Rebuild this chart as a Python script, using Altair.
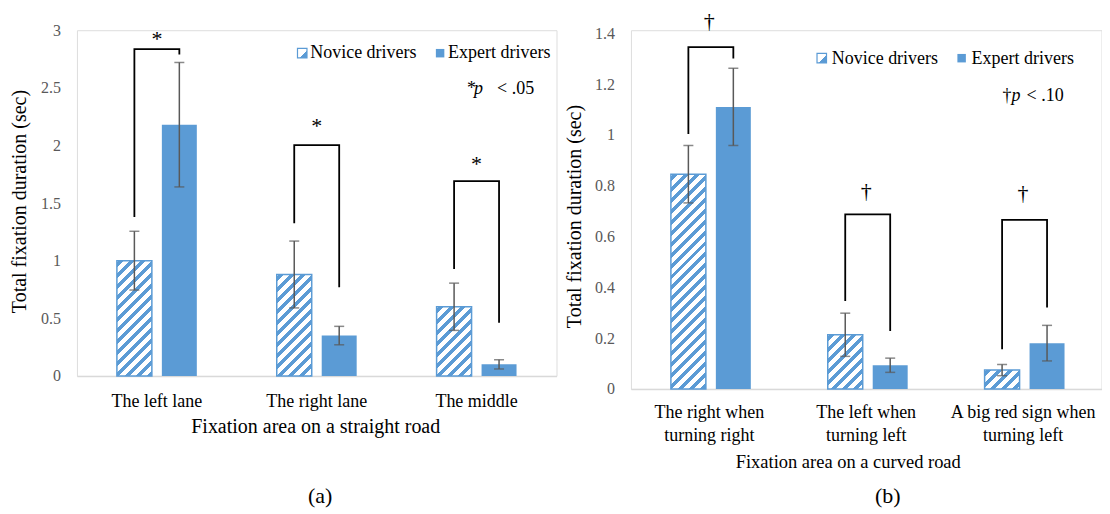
import altair as alt
import pandas as pd

BLUE = "#5B9BD5"
ERR = "#595959"
FONT = "Liberation Serif"

groups = ["Novice drivers", "Expert drivers"]

# ---------- panel (a) ----------
a_cats = ["The left lane", "The right lane", "The middle"]
a_novice = [1.00, 0.88, 0.60]
a_novice_err = [0.255, 0.29, 0.205]
a_expert = [2.18, 0.35, 0.10]
a_expert_err = [0.54, 0.08, 0.04]
a_bracket_top = [2.835, 2.003, 1.69]
a_bracket_left = [1.38, 1.325, 0.928]
a_bracket_right = [2.79, 0.77, 0.462]
a_sig_y = [2.948, 2.194, 1.864]
a_ticks = [0, 0.5, 1, 1.5, 2, 2.5, 3]

# ---------- panel (b) ----------
b_cats = ["The right when|turning right", "The left when|turning left",
          "A big red sign when|turning left"]
b_novice = [0.845, 0.213, 0.074]
b_novice_err = [0.113, 0.085, 0.022]
b_expert = [1.11, 0.093, 0.18]
b_expert_err = [0.152, 0.028, 0.07]
b_bracket_top = [1.345, 0.687, 0.665]
b_bracket_left = [1.003, 0.346, 0.156]
b_bracket_right = [1.30, 0.228, 0.32]
b_sig_y = [1.443, 0.775, 0.767]
b_ticks = [0, 0.2, 0.4, 0.6, 0.8, 1, 1.2, 1.4]


def hatch(w, h, period=11.0, blue=5.0, phase=2.0):
    L = w + h

    def col(s):
        return BLUE if ((s - phase) % period) < blue else "#FFFFFF"

    bnds = []
    k = -1
    while True:
        s0 = phase + k * period
        for b in (s0, s0 + blue):
            if 0 < b < L:
                bnds.append(b)
        if s0 > L:
            break
        k += 1
    bnds.sort()
    stops = [alt.GradientStop(offset=0, color=col(0.0))]
    for b in bnds:
        stops.append(alt.GradientStop(offset=b / L, color=col(b - 1e-6)))
        stops.append(alt.GradientStop(offset=b / L, color=col(b + 1e-6)))
    stops.append(alt.GradientStop(offset=1, color=col(L)))
    kk = (w + h) / (w * w + h * h)
    return alt.LinearGradient(gradient="linear", stops=stops,
                              x1=0, y1=0, x2=kk * w, y2=kk * h)


ICON = alt.LinearGradient(gradient="linear", x1=0, y1=0, x2=1, y2=1, stops=[
    alt.GradientStop(offset=0, color="#FFFFFF"),
    alt.GradientStop(offset=0.6, color="#FFFFFF"),
    alt.GradientStop(offset=0.6, color=BLUE),
    alt.GradientStop(offset=1, color=BLUE)])

one = pd.DataFrame({"k": [0]})


def txt(s, x, y, size=18, align="left", baseline="alphabetic", style="normal"):
    return alt.Chart(one).mark_text(
        text=s, font=FONT, fontSize=size, align=align, baseline=baseline,
        fontStyle=style, color="#000000"
    ).encode(x=alt.value(x), y=alt.value(y))


def panel(cats, nov, nerr, exp, eerr, btop, bl, br, sig_y, sig, sig_dy,
          ticks, width, height, ymax, bar_w, gap, xtitle, xtitle_size,
          xtitle_x, xtitle_y, xlabel_pad, ytitle_x, ytitle_y, legend, note,
          plabel, anchor=False):
    rows = []
    for i, c in enumerate(cats):
        rows.append(dict(cat=c, grp=groups[0], value=nov[i],
                         lo=nov[i] - nerr[i], hi=nov[i] + nerr[i]))
        rows.append(dict(cat=c, grp=groups[1], value=exp[i],
                         lo=exp[i] - eerr[i], hi=exp[i] + eerr[i]))
    bars = pd.DataFrame(rows)

    brows = []
    for i, c in enumerate(cats):
        brows += [dict(cat=c, grp=groups[0], val=bl[i], ord=0),
                  dict(cat=c, grp=groups[0], val=btop[i], ord=1),
                  dict(cat=c, grp=groups[1], val=btop[i], ord=2),
                  dict(cat=c, grp=groups[1], val=br[i], ord=3)]
    brk = pd.DataFrame(brows)
    sigdf = pd.DataFrame({"cat": cats, "sy": sig_y})

    S = width / len(cats)
    pi = gap / (bar_w + gap)
    po = (S - 2 * bar_w - gap) / 2 / (bar_w + gap)

    xaxis = alt.Axis(labelAngle=0, labelExpr="split(datum.label, '|')",
                     labelFont=FONT, labelFontSize=18, labelColor="#000000",
                     labelPadding=xlabel_pad, labelBaseline="alphabetic",
                     labelAlign="center", labelLineHeight=23, labelOverlap=False,
                     ticks=False, tickSize=0, domainColor="#D9D9D9",
                     domainWidth=1.5, titleFont=FONT, titleFontSize=xtitle_size,
                     titleFontWeight="normal", titleColor="#000000",
                     titleX=xtitle_x, titleY=xtitle_y, titleAlign="center",
                     titleBaseline="alphabetic")
    yaxis = alt.Axis(values=ticks, format="~g", domain=False, ticks=False,
                     tickSize=0, grid=False, labelFont=FONT, labelFontSize=16,
                     labelColor="#595959", labelPadding=16.5, titleFont=FONT,
                     titleFontSize=20, titleFontWeight="normal",
                     titleColor="#000000", titleX=ytitle_x, titleY=ytitle_y,
                     titleAngle=270, titleAlign="center", titleBaseline="middle")
    X = alt.X("cat:N", sort=cats,
              scale=alt.Scale(domain=cats, paddingInner=0, paddingOuter=0),
              axis=xaxis, title=xtitle)
    XO = alt.XOffset("grp:N", sort=groups,
                     scale=alt.Scale(domain=groups, paddingInner=pi, paddingOuter=po))

    def Y(f):
        return alt.Y(f + ":Q", scale=alt.Scale(domain=[0, ymax], nice=False, zero=False),
                     axis=yaxis, title="Total fixation  duration (sec)")

    layers = []
    layers.append(alt.Chart(bars).transform_filter(alt.datum.grp == groups[1])
                  .mark_bar(color=BLUE).encode(x=X, xOffset=XO, y=Y("value")))
    for i, c in enumerate(cats):
        h = nov[i] * height / ymax
        layers.append(
            alt.Chart(bars)
            .transform_filter((alt.datum.grp == groups[0]) & (alt.datum.cat == c))
            .mark_bar(fill=hatch(bar_w, h), stroke=BLUE, strokeWidth=1.5)
            .encode(x=X, xOffset=XO, y=Y("value")))
    layers.append(alt.Chart(bars).mark_rule(color=ERR, strokeWidth=1.5)
                  .encode(x=X, xOffset=XO, y=Y("lo"), y2="hi:Q"))
    layers.append(alt.Chart(bars).transform_fold(["lo", "hi"], as_=["kk", "v"])
                  .mark_tick(color=ERR, thickness=1.5, size=10, orient="horizontal")
                  .encode(x=X, xOffset=XO, y=Y("v")))
    layers.append(alt.Chart(brk).mark_line(color="#000000", strokeWidth=1.8)
                  .encode(x=X, xOffset=XO, y=Y("val"), detail="cat:N",
                          order="ord:Q"))
    layers.append(alt.Chart(sigdf).mark_text(text=sig, font=FONT, fontSize=22,
                                             baseline="alphabetic", dy=sig_dy,
                                             color="#000000")
                  .encode(x=X, y=Y("sy")))

    (nsx, nsy), (ntx, nty), (esx, esy), (etx, ety) = legend
    layers.append(alt.Chart(one).mark_square(fill=ICON, stroke=BLUE, strokeWidth=1.2,
                                             size=90, opacity=1)
                  .encode(x=alt.value(nsx), y=alt.value(nsy)))
    layers.append(txt(groups[0], ntx, nty))
    layers.append(alt.Chart(one).mark_square(fill=BLUE, size=72, opacity=1)
                  .encode(x=alt.value(esx), y=alt.value(esy)))
    layers.append(txt(groups[1], etx, ety))
    (s1, x1), (s2, x2), (s3, x3), ny = note
    layers.append(txt(s1, x1, ny))
    layers.append(txt(s2, x2, ny, style="italic"))
    layers.append(txt(s3, x3, ny))
    layers.append(txt(plabel[0], plabel[1], plabel[2], size=22, align="center",
                      baseline="middle"))
    if anchor:
        layers.append(alt.Chart(one).mark_rule(strokeOpacity=0, opacity=0)
                      .encode(x=alt.value(-68.5), x2=alt.value(-60),
                              y=alt.value(-21), y2=alt.value(-21)))
    return alt.layer(*layers).properties(width=width, height=height)


left = panel(a_cats, a_novice, a_novice_err, a_expert, a_expert_err,
             a_bracket_top, a_bracket_left, a_bracket_right, a_sig_y, "*", 10,
             a_ticks, 480, 346, 3.0, 35, 10,
             "Fixation  area on a straight road", 20, 238.5, 57, 31,
             -57.5, 171,
             [(225.5, 23), (233.5, 28), (363.5, 23), (371.5, 28)],
             [("*", 390.5), ("p", 397.5), ("< .05", 420.5), 64],
             ("(a)", 243.5, 466), anchor=True)

right = panel(b_cats, b_novice, b_novice_err, b_expert, b_expert_err,
              b_bracket_top, b_bracket_left, b_bracket_right, b_sig_y, "\u2020", 6,
              b_ticks, 471, 359, 359 / 254.29, 35, 10,
              "Fixation  area on a curved road", 18.5, 217, 79, 29,
              -56, 186,
              [(191, 28), (201, 34), (331, 28), (341, 34)],
              [("\u2020", 372), ("p", 381), ("< .10", 396), 71],
              ("(b)", 257, 466))

chart = (alt.hconcat(left, right, spacing=74.5, bounds="flush", padding=0,
                     background="#FFFFFF")
         .configure_view(stroke=None)
         .configure_axis(labelFont=FONT, titleFont=FONT)
         .configure_text(font=FONT)
         .configure(font=FONT))

chart.save("out.html", embed_options={"renderer": "svg", "actions": False})
